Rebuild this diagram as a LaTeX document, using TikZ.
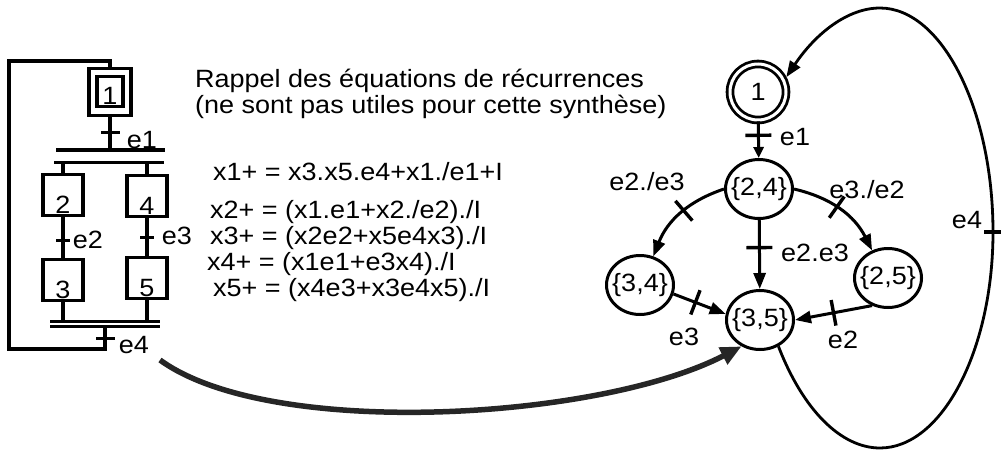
\documentclass[tikz,border=0pt]{standalone}
\usepackage{fontspec}
\setmainfont{Liberation Sans}[FakeStretch=1.08]
\usetikzlibrary{arrows.meta,positioning,calc,shapes.geometric}

\begin{document}
\begin{tikzpicture}[x=1pt,y=-1pt,
font=\fontsize{25}{26.5}\selectfont,
lien/.style={line width=3.2pt},
etape/.style={draw,line width=3.2pt,minimum width=40pt,minimum height=41pt,inner sep=0pt,
  label={[anchor=base,inner sep=0pt,yshift=3.5pt]south:#1}},
barre/.style={fill,minimum width=#1,minimum height=3.2pt,inner sep=0pt,outer sep=0pt},
gtick/.style={sloped,fill,minimum width=3.4pt,minimum height=19pt,inner sep=0pt,outer sep=0pt},
tick/.style={gtick,minimum height=26pt},
etat/.style={draw,ellipse,line width=3pt,minimum width=67pt,minimum height=59pt,inner xsep=-5pt,inner ysep=-5pt},
arr/.style={line width=3pt,-{Triangle[length=16pt,width=12pt]}},
grosse/.style={line width=5.5pt,draw=black!85,-{Triangle[length=21pt,width=18pt]}},
txt/.style={anchor=base west,inner sep=0pt},
lbl/.style={inner sep=0pt}
]
\useasboundingbox (0,0) rectangle (1001,450);

% grafcet
\node[draw,line width=3.2pt,minimum width=42pt,minimum height=47pt] (s1) at (110,92) {};
\node[etape=1,minimum width=26pt,minimum height=30pt] (s1i) at (110,91.5) {};
\node[barre=109pt] (dv1) at (110,150) {};
\node[barre=110pt] (dv2) at (109,162.5) {};
\node[etape=2] (s2) at (63,195) {};
\node[etape=4] (s4) at (147,196) {};
\node[etape=3] (s3) at (63,280) {};
\node[etape=5] (s5) at (147,278) {};
\node[barre=110pt] (cv1) at (105,321.5) {};
\node[barre=110pt] (cv2) at (105,326.8) {};
\coordinate (bg) at (9,349);
\coordinate (hg) at (9,61);

\draw[lien] (s1) -- (s1 |- dv1.north) node[gtick,pos=.5]{};
\draw[lien] (s2 |- dv2.south) -- (s2);
\draw[lien] (s4 |- dv2.south) -- (s4);
\draw[lien] (s2) -- (s3) node[gtick,minimum height=14pt,pos=.58]{};
\draw[lien] (s4) -- (s5) node[gtick,minimum height=14pt,pos=.52]{};
\draw[lien] (s3) -- (s3 |- cv1.north);
\draw[lien] (s5) -- (s5 |- cv1.north);
\draw[lien] (cv2) -- (cv2 |- bg) node[gtick,pos=.5]{} -- (bg) -- (hg) -- (hg -| s1) -- (s1);

\node[lbl] (ge1) at (142,140) {e1};
\node[lbl] (ge2) at (88,240) {e2};
\node[lbl] (ge3) at (177,236) {e3};
\node[lbl] (ge4) at (134,345) {e4};

% equations
\node[txt] (rap1) at (195,87) {Rappel des équations de récurrences};
\node[txt] (rap2) at (195,113) {(ne sont pas utiles pour cette synthèse)};
\node[txt] (eq1) at (213,180) {x1+ = x3.x5.e4+x1./e1+I};
\node[txt] (eq2) at (210,218) {x2+ = (x1.e1+x2./e2)./I};
\node[txt] (eq3) at (210,244) {x3+ = (x2e2+x5e4x3)./I};
\node[txt] (eq4) at (207,270) {x4+ = (x1e1+e3x4)./I};
\node[txt] (eq5) at (213,296) {x5+ = (x4e3+x3e4x5)./I};

% graphe des etats
\node[draw,circle,double,double distance=3pt,line width=2.8pt,minimum size=56pt,inner sep=0pt] (n1) at (758,92) {1};
\node[etat] (n24) at (759,189) {\{2,4\}};
\node[etat] (n34) at (640,285) {\{3,4\}};
\node[etat] (n25) at (888,278) {\{2,5\}};
\node[etat] (n35) at (760,320) {\{3,5\}};
\coordinate (c4) at (993,232);

\draw[arr,-{Triangle[length=11pt,width=10pt]}] (n1) -- (n24) node[tick,pos=.38]{};
\draw[arr] (n24) -- (n35) node[tick,pos=.4]{};
\draw[arr] (n24.west) to[bend right=25] node[tick,pos=.45]{} (n34.65);
\draw[arr] (n24.east) to[bend left=25] node[tick,pos=.45]{} (n25.120);
\draw[arr] (n34.-15) -- (n35.170) node[tick,pos=.42]{};
\draw[arr] (n25.-120) -- (n35.east) node[tick,pos=.5]{};
\draw[arr,line width=2.8pt,shorten >=3pt] (n35.-55) .. controls (803,410) and (841,448) .. (880,448)
  .. controls (942,448) and (993,350) .. (c4) node[tick,minimum height=18pt,pos=1]{}
  .. controls (993,110) and (942,8) .. (880,8)
  .. controls (848,8) and (816,33) .. (n1.25);

\node[lbl] (le1) at (795,137) {e1};
\node[lbl] (le23) at (647,182) {e2./e3};
\node[lbl] (le32) at (867,190) {e3./e2};
\node[lbl] (le2e3) at (815,253) {e2.e3};
\node[lbl] (le3) at (684,337) {e3};
\node[lbl] (le2) at (843,340) {e2};
\node[lbl] (le4) at (967,220) {e4};

% passage grafcet -> graphe
\coordinate (dep) at (160,360);
\draw[grosse] (dep) .. controls (270,440) and (600,420) .. (n35.-125);
\end{tikzpicture}
\end{document}
